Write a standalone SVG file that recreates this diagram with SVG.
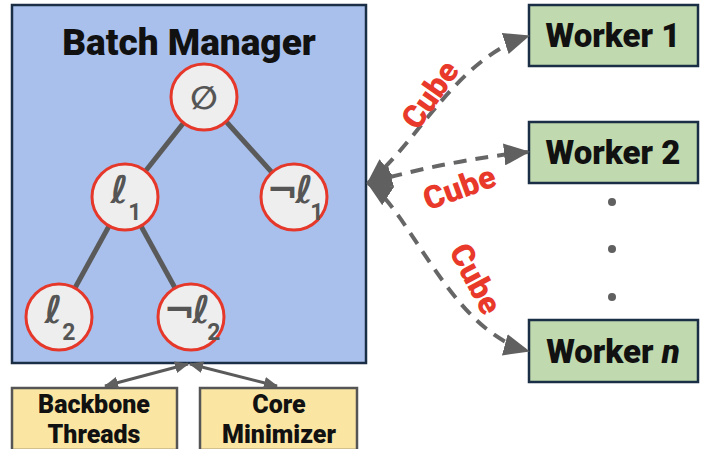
<svg xmlns="http://www.w3.org/2000/svg" width="713" height="449" viewBox="0 0 713 449">
<defs>
<marker id="ah" viewBox="0 0 26 22" refX="24" refY="11" markerWidth="26" markerHeight="22" markerUnits="userSpaceOnUse" orient="auto-start-reverse"><path d="M0,0 L26,11 L0,22 z" fill="#606060"/></marker>
<marker id="as" viewBox="0 0 14 12" refX="13" refY="6" markerWidth="14" markerHeight="12" markerUnits="userSpaceOnUse" orient="auto-start-reverse"><path d="M0,0 L14,6 L0,12 z" fill="#606060"/></marker>
<style>
.lbl{font-family:Roboto,"Liberation Sans",sans-serif;font-weight:900;fill:#111;text-anchor:middle}
.cube{font-family:Roboto,"Liberation Sans",sans-serif;font-weight:900;fill:#e8392a;font-size:32px;text-anchor:middle}
.tn{fill:#eeeeee;stroke:#e5382a;stroke-width:3}
.sym{font-family:"DejaVu Sans",Roboto,sans-serif;font-weight:bold;fill:#555;text-anchor:middle}
.sub{font-family:Roboto,"DejaVu Sans",sans-serif;font-weight:bold;font-size:23px}
.edge{stroke:#5a5a5a;stroke-width:5}
.dash{fill:none;stroke:#666;stroke-width:4;stroke-dasharray:13 9}
.worker{fill:#c0d9ae;stroke:#1a2f45;stroke-width:2.5}
.aux{fill:#fbe5a3;stroke:#555;stroke-width:2.5}
</style>
</defs>
<g id="batch-manager">
<rect x="12" y="5" width="354" height="358" fill="#a9c0ec" stroke="#1a2f45" stroke-width="2.5"/>
<text class="lbl" x="189" y="55" font-size="37">Batch Manager</text>
</g>
<g id="tree-edges">
<line class="edge" x1="204" y1="97" x2="125" y2="197"/>
<line class="edge" x1="204" y1="97" x2="294" y2="197"/>
<line class="edge" x1="125" y1="197" x2="59" y2="317"/>
<line class="edge" x1="125" y1="197" x2="191" y2="317"/>
</g>
<g id="node-root"><circle class="tn" cx="204" cy="97" r="33"/><text class="sym" x="204" y="109" font-size="32" font-weight="normal">∅</text></g>
<g id="node-l1"><circle class="tn" cx="125" cy="197" r="33"/><text class="sym" x="126" y="203" font-size="38">ℓ<tspan class="sub" dy="17">1</tspan></text></g>
<g id="node-nl1"><circle class="tn" cx="294" cy="197" r="33"/><text class="sym" x="295" y="203" font-size="38" letter-spacing="-3">¬ℓ<tspan class="sub" dy="17" letter-spacing="0">1</tspan></text></g>
<g id="node-l2"><circle class="tn" cx="59" cy="317" r="33"/><text class="sym" x="60" y="323" font-size="38">ℓ<tspan class="sub" dy="17">2</tspan></text></g>
<g id="node-nl2"><circle class="tn" cx="191" cy="317" r="33"/><text class="sym" x="192" y="323" font-size="38" letter-spacing="-3">¬ℓ<tspan class="sub" dy="17" letter-spacing="0">2</tspan></text></g>
<g id="backbone"><rect class="aux" x="12" y="388" width="165" height="62"/><text class="lbl" x="94" y="413" font-size="25">Backbone</text><text class="lbl" x="94" y="443" font-size="25">Threads</text></g>
<g id="core"><rect class="aux" x="200" y="388" width="157" height="62"/><text class="lbl" x="279" y="413" font-size="25">Core</text><text class="lbl" x="279" y="443" font-size="25">Minimizer</text></g>
<g id="worker1"><rect class="worker" x="529" y="5" width="169" height="61"/><text class="lbl" x="613" y="47" font-size="33">Worker 1</text></g>
<g id="worker2"><rect class="worker" x="529" y="122" width="169" height="61"/><text class="lbl" x="613" y="164" font-size="33">Worker 2</text></g>
<g id="workern"><rect class="worker" x="529" y="320" width="169" height="62"/><text class="lbl" x="613" y="363" font-size="33">Worker <tspan font-style="italic">n</tspan></text></g>
<g id="dots" fill="#606060"><circle cx="612" cy="202" r="4"/><circle cx="612" cy="249" r="4"/><circle cx="612" cy="297" r="4"/></g>
<g id="connectors">
<path class="dash" d="M368,183 C420,140 455,60 528,36" marker-start="url(#ah)" marker-end="url(#ah)"/>
<path class="dash" d="M368,183 Q450,160 528,152" marker-start="url(#ah)" marker-end="url(#ah)"/>
<path class="dash" d="M368,183 C410,210 450,330 528,351" marker-start="url(#ah)" marker-end="url(#ah)"/>
<line x1="105" y1="386" x2="188" y2="364" stroke="#5a5a5a" stroke-width="3" marker-start="url(#as)" marker-end="url(#as)"/>
<line x1="190" y1="364" x2="277" y2="386" stroke="#5a5a5a" stroke-width="3" marker-start="url(#as)" marker-end="url(#as)"/>
<text class="cube" transform="translate(439,101) rotate(-55)">Cube</text>
<text class="cube" transform="translate(463,198) rotate(-20)">Cube</text>
<text class="cube" transform="translate(466,284) rotate(62)">Cube</text>
</g>
</svg>
